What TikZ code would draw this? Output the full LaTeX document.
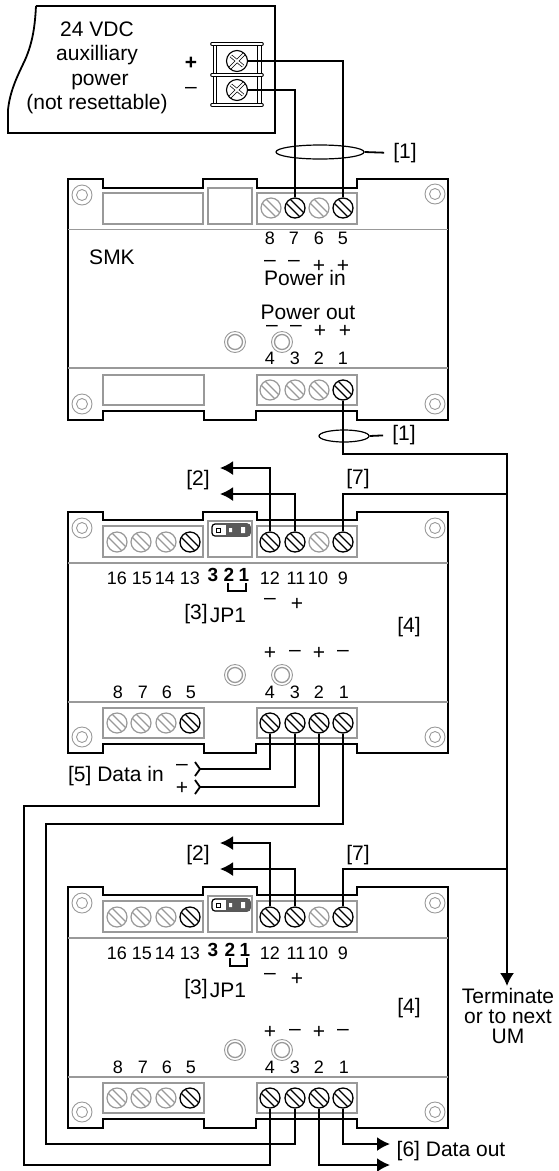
\documentclass[tikz,border=0pt]{standalone}
\usepackage{fontspec}
\setmainfont{Liberation Sans}
\usepackage{tikz}
\usetikzlibrary{arrows.meta,shapes.geometric}
\definecolor{pale}{gray}{0.6}
\tikzset{
	wire/.style={line width=1.8pt},
	body/.style={line width=1.8pt},
	thinpart/.style={draw=pale,line width=1.2pt},
	screwon/.style={circle,draw,fill=white,inner sep=0pt,minimum size=20pt,line width=1.3pt,
		path picture={\draw[line width=1.2pt] (-9,-5) -- (5,9) (-5,-9) -- (9,5);}},
	screwoff/.style={circle,draw=pale,fill=white,inner sep=0pt,minimum size=20pt,line width=1.2pt,
		path picture={\draw[pale,line width=1.1pt] (-9,-5) -- (5,9) (-5,-9) -- (9,5);}},
	powerscrew/.style={circle,draw,fill=white,inner sep=0pt,minimum size=21pt,line width=1.1pt,
		path picture={\draw[line width=.7pt,double,double distance=1.8pt] (-8,8) -- (8,-8) (-6,-5) -- (6,5);}},
	mount/.style={circle,draw=pale,inner sep=0pt,minimum size=20pt,line width=.9pt,
		path picture={\draw[pale,line width=.9pt] (0,0) circle (5.5);}},
	hole/.style={circle,draw=pale,inner sep=0pt,minimum size=21pt,line width=.9pt,
		path picture={\draw[line width=1.3pt] (0,0) circle (7.5);}},
	lab/.style={inner sep=0pt,font=\fontsize{21}{24.5}\selectfont,align=center},
	num/.style={inner sep=0pt,font=\fontsize{18}{18}\selectfont},
	pin/.style={inner sep=0pt,font=\fontsize{19}{19}\selectfont\bfseries},
	sign/.style={inner sep=0pt,font=\fontsize{21}{21}\selectfont},
	loopring/.style={ellipse,draw,inner sep=0pt,line width=1.2pt},
	tip/.style={-{Latex[length=13pt,width=14pt]}},
}
\begin{document}
\begin{tikzpicture}[x=1pt,y=-1pt]
	\useasboundingbox (0,0) rectangle (558,1171);

	% auxiliary supply
	\draw[body] (36,6) -- (275,6) -- (275,133) -- (8,133) -- (8,110) .. controls (10,90) and (18,75) .. (25,60) .. controls (33,42) and (35,25) .. (36,6);
	\node[lab] (auxtxt) at (97,68) {24 VDC\\auxilliary\\\ power\\(not resettable)};
	\node[lab,font=\fontsize{21}{21}\selectfont\bfseries] (auxp) at (191,63) {+};
	\node[lab] (auxm) at (191,90) {--};
	\draw[line width=1pt] (213.5,44) -- (213.5,105) (216.5,44) -- (216.5,105) (257.5,44) -- (257.5,105) (261.5,44) -- (261.5,105);
	\draw[line width=.9pt,double,double distance=1.8pt,line cap=round] (212,44) -- (262,44) (212,75) -- (262,75) (212,105) -- (262,105);
	\node[powerscrew] (pp) at (237,61) {};
	\node[powerscrew] (pm) at (237,90) {};

	% SMK
	\draw[body] (68,229) -- (68,179) -- (103,179) -- (103,188) -- (203,188) -- (203,179) -- (257,179) -- (257,188) -- (357,188) -- (357,179) -- (448,179) -- (448,229);
	\draw[body] (68,229) -- (68,420) -- (103,420) -- (103,411) -- (204,411) -- (204,420) -- (256,420) -- (256,411) -- (357,411) -- (357,420) -- (448,420) -- (448,229);
	\draw[thinpart] (68,229.5) -- (448,229.5) (68,368) -- (448,368);
	\draw[thinpart] (103,193) rectangle (203,224) (208,188) rectangle (252,224) (257,193) rectangle (357,224);
	\draw[thinpart] (103,375) rectangle (204,405) (257,375) rectangle (357,405);
	\node[mount] (skm1) at (82,195) {};
	\node[mount] (skm2) at (435,194) {};
	\node[mount] (skm3) at (82,404) {};
	\node[mount] (skm4) at (435,404) {};
	\node[hole] (skh1) at (235,342) {};
	\node[hole] (skh2) at (282,342) {};
	\node[screwoff] (sk8) at (271,208) {};
	\node[screwon] (sk7) at (295,208) {};
	\node[screwoff] (sk6) at (319,208) {};
	\node[screwon] (sk5) at (343,208) {};
	\node[screwoff] (sk4) at (270,390) {};
	\node[screwoff] (sk3) at (295,390) {};
	\node[screwoff] (sk2) at (319,390) {};
	\node[screwon] (sk1) at (343,390) {};
	\node[num] (skn8) at (270,238) {8};
	\node[num] (skn7) at (294,238) {7};
	\node[num] (skn6) at (319,238) {6};
	\node[num] (skn5) at (343,238) {5};
	\node[sign] (sks8) at (270,263) {--};
	\node[sign] (sks7) at (294,263) {--};
	\node[sign] (sks6) at (319,266) {+};
	\node[sign] (sks5) at (343,266) {+};
	\node[lab] (skin) at (305,278) {Power in};
	\node[lab] (skname) at (112,257) {SMK};
	\node[lab] (skout) at (308,312) {Power out};
	\node[sign] (sks4) at (272,328) {--};
	\node[sign] (sks3) at (296,328) {--};
	\node[sign] (sks2) at (320,331) {+};
	\node[sign] (sks1) at (345,331) {+};
	\node[num] (skn4) at (270,358) {4};
	\node[num] (skn3) at (295,358) {3};
	\node[num] (skn2) at (319,358) {2};
	\node[num] (skn1) at (343,358) {1};

	% first module
	\draw[body] (68,563) -- (68,512) -- (103,512) -- (103,520) -- (203,520) -- (203,512) -- (257,512) -- (257,520) -- (357,520) -- (357,512) -- (448,512) -- (448,563);
	\draw[body] (68,563) -- (68,753) -- (103,753) -- (103,744) -- (204,744) -- (204,753) -- (256,753) -- (256,744) -- (357,744) -- (357,753) -- (448,753) -- (448,563);
	\draw[thinpart] (68,563) -- (448,563) (68,702) -- (448,702);
	\draw[thinpart] (103,526) rectangle (203,557) (208,521) rectangle (252,557) (257,526) rectangle (357,557);
	\draw[thinpart] (103,708) rectangle (204,738) (257,708) rectangle (357,738);
	\node[mount] (am1) at (82,528) {};
	\node[mount] (am2) at (435,528) {};
	\node[mount] (am3) at (82,737) {};
	\node[mount] (am4) at (435,737) {};
	\node[hole] (ah1) at (235,675) {};
	\node[hole] (ah2) at (282,675) {};
	\draw[line width=1.2pt,fill=white,rounded corners=3pt] (212,524) rectangle (250,536);
	\fill[black!65,rounded corners=1pt] (226,524) rectangle (250,536);
	\fill[white] (229,528) rectangle (232,532) (241,527) rectangle (245,533);
	\draw[line width=.8pt] (216,528) rectangle (220,532);
	\node[screwoff] (as16) at (117,542) {};
	\node[screwoff] (as15) at (141,542) {};
	\node[screwoff] (as14) at (166,542) {};
	\node[screwon] (as13) at (190,542) {};
	\node[screwon] (as12) at (270,542) {};
	\node[screwon] (as11) at (295,542) {};
	\node[screwoff] (as10) at (319,542) {};
	\node[screwon] (as9) at (343,542) {};
	\node[screwoff] (as8) at (117,723) {};
	\node[screwoff] (as7) at (141,723) {};
	\node[screwoff] (as6) at (166,723) {};
	\node[screwon] (as5) at (190,723) {};
	\node[screwon] (as4) at (270,723) {};
	\node[screwon] (as3) at (295,723) {};
	\node[screwon] (as2) at (319,723) {};
	\node[screwon] (as1) at (343,723) {};
	\node[num] (an16) at (117,578) {16};
	\node[num] (an15) at (142,578) {15};
	\node[num] (an14) at (165,578) {14};
	\node[num] (an13) at (190,578) {13};
	\node[pin] (ap3) at (213,575) {3};
	\node[pin] (ap2) at (229,575) {2};
	\node[pin] (ap1) at (244,575) {1};
	\draw[line width=1.2pt] (228,583) |- (246,591) -- (246,583);
	\node[num] (an12) at (270,578) {12};
	\node[num] (an11) at (296,578) {11};
	\node[num] (an10) at (318,578) {10};
	\node[num] (an9) at (343,578) {9};
	\node[sign] (as12m) at (270,601) {--};
	\node[sign] (as11p) at (297,604) {+};
	\node[lab] (ajp3) at (196,614) {[3]};
	\node[lab] (ajp) at (228,615) {JP1};
	\node[lab] (afour) at (409,627) {[4]};
	\node[sign] (asa) at (270,653) {+};
	\node[sign] (asb) at (295,653) {--};
	\node[sign] (asc) at (319,653) {+};
	\node[sign] (asd) at (343,653) {--};
	\node[num] (an8) at (118,692) {8};
	\node[num] (an7) at (143,692) {7};
	\node[num] (an6) at (167,692) {6};
	\node[num] (an5) at (191,692) {5};
	\node[num] (an4) at (270,692) {4};
	\node[num] (an3) at (295,692) {3};
	\node[num] (an2) at (319,692) {2};
	\node[num] (an1) at (344,692) {1};

	% second module
	\draw[body] (68,938) -- (68,887) -- (103,887) -- (103,895) -- (203,895) -- (203,887) -- (257,887) -- (257,895) -- (357,895) -- (357,887) -- (448,887) -- (448,938);
	\draw[body] (68,938) -- (68,1128) -- (103,1128) -- (103,1119) -- (204,1119) -- (204,1128) -- (256,1128) -- (256,1119) -- (357,1119) -- (357,1128) -- (448,1128) -- (448,938);
	\draw[thinpart] (68,938) -- (448,938) (68,1077) -- (448,1077);
	\draw[thinpart] (103,901) rectangle (203,932) (208,896) rectangle (252,932) (257,901) rectangle (357,932);
	\draw[thinpart] (103,1083) rectangle (204,1113) (257,1083) rectangle (357,1113);
	\node[mount] (bm1) at (82,903) {};
	\node[mount] (bm2) at (435,903) {};
	\node[mount] (bm3) at (82,1112) {};
	\node[mount] (bm4) at (435,1112) {};
	\node[hole] (bh1) at (235,1050) {};
	\node[hole] (bh2) at (282,1050) {};
	\draw[line width=1.2pt,fill=white,rounded corners=3pt] (212,899) rectangle (250,911);
	\fill[black!65,rounded corners=1pt] (226,899) rectangle (250,911);
	\fill[white] (229,903) rectangle (232,907) (241,902) rectangle (245,908);
	\draw[line width=.8pt] (216,903) rectangle (220,907);
	\node[screwoff] (bs16) at (117,917) {};
	\node[screwoff] (bs15) at (141,917) {};
	\node[screwoff] (bs14) at (166,917) {};
	\node[screwon] (bs13) at (190,917) {};
	\node[screwon] (bs12) at (270,917) {};
	\node[screwon] (bs11) at (295,917) {};
	\node[screwoff] (bs10) at (319,917) {};
	\node[screwon] (bs9) at (343,917) {};
	\node[screwoff] (bs8) at (117,1098) {};
	\node[screwoff] (bs7) at (141,1098) {};
	\node[screwoff] (bs6) at (166,1098) {};
	\node[screwon] (bs5) at (190,1098) {};
	\node[screwon] (bs4) at (270,1098) {};
	\node[screwon] (bs3) at (295,1098) {};
	\node[screwon] (bs2) at (319,1098) {};
	\node[screwon] (bs1) at (343,1098) {};
	\node[num] (bn16) at (117,953) {16};
	\node[num] (bn15) at (142,953) {15};
	\node[num] (bn14) at (165,953) {14};
	\node[num] (bn13) at (190,953) {13};
	\node[pin] (bp3) at (213,950) {3};
	\node[pin] (bp2) at (230,950) {2};
	\node[pin] (bp1) at (245,950) {1};
	\draw[line width=1.2pt] (230,958) |- (247,966) -- (247,958);
	\node[num] (bn12) at (270,953) {12};
	\node[num] (bn11) at (296,953) {11};
	\node[num] (bn10) at (318,953) {10};
	\node[num] (bn9) at (343,953) {9};
	\node[sign] (bs12m) at (270,976) {--};
	\node[sign] (bs11p) at (297,979) {+};
	\node[lab] (bjp3) at (196,989) {[3]};
	\node[lab] (bjp) at (228,990) {JP1};
	\node[lab] (bfour) at (409,1008) {[4]};
	\node[sign] (bsa) at (270,1032) {+};
	\node[sign] (bsb) at (295,1032) {--};
	\node[sign] (bsc) at (319,1032) {+};
	\node[sign] (bsd) at (343,1032) {--};
	\node[num] (bn8) at (118,1067) {8};
	\node[num] (bn7) at (143,1067) {7};
	\node[num] (bn6) at (167,1067) {6};
	\node[num] (bn5) at (191,1067) {5};
	\node[num] (bn4) at (270,1067) {4};
	\node[num] (bn3) at (295,1067) {3};
	\node[num] (bn2) at (319,1067) {2};
	\node[num] (bn1) at (344,1067) {1};

	% outside labels
	\node[lab] (cable1) at (405,153) {[1]};
	\node[lab] (cable2) at (404,435) {[1]};
	\node[lab] (atwo) at (198,480) {[2]};
	\node[lab] (aseven) at (358,479) {[7]};
	\node[lab] (btwo) at (198,855) {[2]};
	\node[lab] (bseven) at (358,855) {[7]};
	\node[lab] (datain) at (116,776) {[5] Data in};
	\node[sign] (dinm) at (182,767) {--};
	\node[sign] (dinp) at (182,788) {+};
	\node[lab] (dataout) at (451,1151) {[6] Data out};
	\node[lab,anchor=north,font=\fontsize{21}{20}\selectfont] (term) at (508,988) {Terminate\\or to next\\UM};

	% loose ends and corners
	\coordinate (busa) at (507,454);
	\coordinate (busb) at (507,494);
	\coordinate (busc) at (507,869);
	\coordinate (busd) at (507,986);
	\coordinate (atip1) at (220,468);
	\coordinate (atip2) at (220,494);
	\coordinate (btip1) at (220,843);
	\coordinate (btip2) at (220,869);
	\coordinate (fork1) at (200,769);
	\coordinate (fork2) at (200,787);
	\coordinate (lefta) at (24,806);
	\coordinate (leftb) at (24,1165);
	\coordinate (leftc) at (46,824);
	\coordinate (leftd) at (46,1144);
	\coordinate (outa) at (390,1144);
	\coordinate (outb) at (390,1165);

	% wires
	\draw[wire] (pp.east) -| (sk5.north);
	\draw[wire] (pm.east) -| (sk7.north);
	\node[loopring,minimum width=88pt,minimum height=14pt] (ringa) at (320,152) {};
	\draw[wire,shorten >=9pt] (ringa.east) -- (cable1.west);
	\draw[wire] (sk1.south) |- (busa) -- (busb) -- (busc);
	\draw[wire,tip] (busc) -- (busd);
	\node[loopring,minimum width=50pt,minimum height=12pt] (ringb) at (344,436) {};
	\draw[wire,shorten >=9pt] (ringb.east) -- (cable2.west);
	\draw[wire,tip] (as12.north) |- (atip1);
	\draw[wire,tip] (as11.north) |- (atip2);
	\draw[wire] (as9.north) |- (busb);
	\draw[wire] (as4.south) |- (fork1);
	\draw[wire] (as3.south) |- (fork2);
	\draw[wire] (fork1) ++(-5,-7) -- (fork1) -- ++(-5,7);
	\draw[wire] (fork2) ++(-5,-7) -- (fork2) -- ++(-5,7);
	\draw[wire] (as2.south) |- (lefta) -- (leftb) -| (bs4.south);
	\draw[wire] (as1.south) |- (leftc) -- (leftd) -| (bs3.south);
	\draw[wire,tip] (bs12.north) |- (btip1);
	\draw[wire,tip] (bs11.north) |- (btip2);
	\draw[wire] (bs9.north) |- (busc);
	\draw[wire,tip] (bs1.south) |- (outa);
	\draw[wire,tip] (bs2.south) |- (outb);
\end{tikzpicture}
\end{document}
